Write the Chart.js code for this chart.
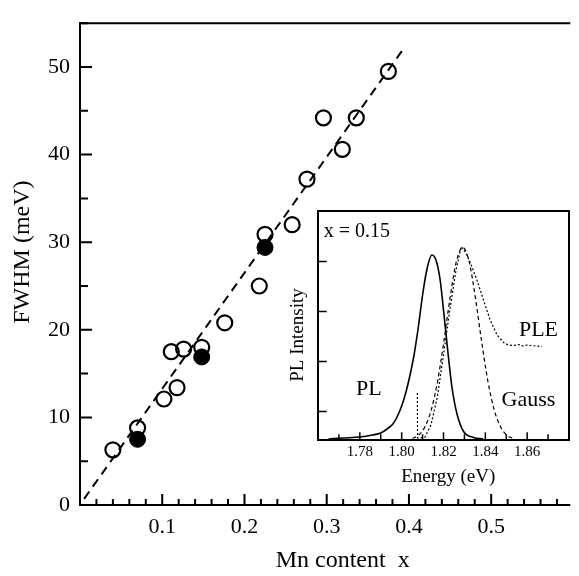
<!DOCTYPE html>
<html>
<head>
<meta charset="utf-8">
<script src="https://cdn.jsdelivr.net/npm/chart.js@4/dist/chart.umd.min.js"></script>
<style>
  html, body { margin: 0; padding: 0; background: #fff; }
  #wrap { position: relative; width: 579px; height: 576px; }
  #mainChart { position: absolute; left: 0; top: 0; }
  #insetChart { position: absolute; left: 280px; top: 200px; }
</style>
</head>
<body>
<div id="wrap">
  <canvas id="mainChart" width="579" height="576"></canvas>
  <canvas id="insetChart" width="299" height="300"></canvas>
</div>
<script>
// main panel: FWHM vs Mn content
const openX = [0.040, 0.070, 0.102, 0.118, 0.111, 0.126, 0.148, 0.176, 0.218, 0.225, 0.258, 0.276, 0.296, 0.319, 0.336, 0.375];
const openY = [6.3, 8.8, 12.1, 13.4, 17.5, 17.8, 18.0, 20.8, 25.0, 30.9, 32.0, 37.2, 44.2, 40.6, 44.2, 49.5];
const filledX = [0.070, 0.148, 0.225];
const filledY = [7.5, 16.9, 29.4];
const fitX = [0.005, 0.395];
const fitY = [0.7, 52.3];

// inset: spectra at x = 0.15
const plE = [1.765, 1.772, 1.780, 1.786, 1.790, 1.793, 1.796, 1.798, 1.800, 1.802, 1.804, 1.806, 1.808, 1.810, 1.812, 1.8144, 1.8164, 1.8184, 1.820, 1.822, 1.824, 1.8264, 1.8296, 1.8343, 1.839];
const plI = [0.02, 0.04, 0.06, 0.10, 0.14, 0.22, 0.33, 0.48, 0.68, 0.95, 1.30, 1.72, 2.27, 2.90, 3.40, 3.70, 3.60, 3.20, 2.60, 1.80, 1.07, 0.53, 0.17, 0.05, 0.02];
const pleE = [1.8075, 1.8076, 1.811, 1.814, 1.817, 1.820, 1.823, 1.826, 1.8285, 1.8305, 1.8328, 1.836, 1.8391, 1.8423, 1.8456, 1.8487, 1.851, 1.8535, 1.856, 1.858, 1.860, 1.862, 1.864, 1.8671];
const pleI = [0.94, 0.04, 0.05, 0.30, 0.85, 1.70, 2.60, 3.40, 3.87, 3.75, 3.55, 3.20, 2.80, 2.40, 2.10, 1.95, 1.90, 1.89, 1.91, 1.88, 1.90, 1.89, 1.88, 1.87];
const gaussE = [1.8052, 1.8082, 1.8112, 1.8142, 1.8172, 1.8202, 1.8232, 1.8262, 1.8292, 1.8322, 1.8352, 1.8382, 1.8412, 1.8442, 1.8472, 1.8502, 1.8532];
const gaussI = [0.03, 0.10, 0.27, 0.61, 1.18, 1.98, 2.86, 3.58, 3.85, 3.58, 2.86, 1.98, 1.18, 0.61, 0.27, 0.10, 0.03];
const insetYTicks = [0.57, 1.57, 2.57, 3.57];
const insetLabels = [
  { text: 'x = 0.15', e: 1.7786, i: 4.16, size: 20 },
  { text: 'PL', e: 1.7843, i: 1.02, size: 22 },
  { text: 'PLE', e: 1.8654, i: 2.2, size: 22 },
  { text: 'Gauss', e: 1.8606, i: 0.8, size: 22 }
];

const SERIF = '"Liberation Serif", "Times New Roman", serif';
Chart.defaults.font.family = SERIF;
Chart.defaults.color = '#000';

const pts = (xs, ys) => xs.map((x, i) => ({ x: x, y: ys[i] }));

function stepTicks(min, max, step, majorEvery, majorLen, minorLen) {
  const out = [];
  for (let i = 0; min + i * step <= max + 1e-9; i++) {
    out.push([min + i * step, i % majorEvery === 0 ? majorLen : minorLen]);
  }
  return out;
}

// frame lines + ticks pointing into the plot
const frameTicks = {
  id: 'frameTicks',
  afterDraw(chart, args, o) {
    const ctx = chart.ctx, a = chart.chartArea;
    const xs = chart.scales.x, ys = chart.scales.y;
    ctx.save();
    ctx.strokeStyle = '#000';
    ctx.lineCap = 'square';
    ctx.lineWidth = o.tickWidth;
    ctx.beginPath();
    o.xTicks.forEach(([v, len]) => {
      const px = xs.getPixelForValue(v);
      ctx.moveTo(px, a.bottom);
      ctx.lineTo(px, a.bottom - len);
    });
    o.yTicks.forEach(([v, len]) => {
      const py = ys.getPixelForValue(v);
      ctx.moveTo(a.left, py);
      ctx.lineTo(a.left + len, py);
    });
    ctx.stroke();
    ctx.lineWidth = o.frameWidth;
    ctx.beginPath();
    if (o.sides.includes('left')) { ctx.moveTo(a.left, a.top); ctx.lineTo(a.left, a.bottom); }
    if (o.sides.includes('bottom')) { ctx.moveTo(a.left, a.bottom); ctx.lineTo(a.right, a.bottom); }
    if (o.sides.includes('top')) { ctx.moveTo(a.left, a.top); ctx.lineTo(a.right, a.top); }
    if (o.sides.includes('right')) { ctx.moveTo(a.right, a.top); ctx.lineTo(a.right, a.bottom); }
    ctx.stroke();
    ctx.restore();
  }
};

const insetText = {
  id: 'insetText',
  afterDraw(chart) {
    const ctx = chart.ctx;
    ctx.save();
    ctx.fillStyle = '#000';
    ctx.textAlign = 'center';
    ctx.textBaseline = 'middle';
    insetLabels.forEach(l => {
      ctx.font = l.size + 'px ' + SERIF;
      ctx.fillText(l.text, chart.scales.x.getPixelForValue(l.e), chart.scales.y.getPixelForValue(l.i));
    });
    ctx.restore();
  }
};

new Chart(document.getElementById('mainChart'), {
  type: 'scatter',
  data: {
    datasets: [{
      data: pts(filledX, filledY),
      pointRadius: 8,
      pointBorderWidth: 1,
      pointBackgroundColor: '#000',
      pointBorderColor: '#000'
    }, {
      data: pts(openX, openY),
      pointRadius: 7.5,
      pointBorderWidth: 2.2,
      pointBackgroundColor: 'rgba(0,0,0,0)',
      pointBorderColor: '#000'
    }, {
      data: pts(fitX, fitY),
      showLine: true,
      pointRadius: 0,
      borderColor: '#000',
      borderWidth: 2,
      borderDash: [9, 6]
    }]
  },
  options: {
    responsive: false,
    animation: false,
    events: [],
    layout: { padding: { top: 7, right: 0, left: 0, bottom: 0 } },
    plugins: {
      legend: { display: false },
      tooltip: { enabled: false },
      frameTicks: {
        tickWidth: 2, frameWidth: 2, sides: ['left', 'bottom', 'top'],
        xTicks: stepTicks(0, 0.595, 0.02, 5, 10, 5),
        yTicks: stepTicks(0, 55, 5, 2, 11, 7)
      }
    },
    scales: {
      x: {
        type: 'linear', min: 0, max: 0.595,
        afterFit: s => { s.height = 71; },
        grid: { display: false, drawTicks: false },
        border: { display: false },
        ticks: {
          stepSize: 0.1, includeBounds: false, padding: 9,
          font: { size: 22 },
          callback: v => v < 0.05 ? '' : v.toFixed(1)
        },
        title: { display: true, text: '      Mn content  x', font: { size: 24 }, padding: { top: 0, bottom: 1 } }
      },
      y: {
        min: 0, max: 55,
        afterFit: s => { s.width = 80; },
        grid: { display: false, drawTicks: false },
        border: { display: false },
        ticks: { stepSize: 10, includeBounds: false, padding: 10, font: { size: 22 } },
        title: { display: true, text: '    FWHM (meV)', font: { size: 24 }, padding: { top: 8, bottom: 0 } }
      }
    }
  },
  plugins: [frameTicks]
});

new Chart(document.getElementById('insetChart'), {
  type: 'scatter',
  data: {
    datasets: [{
      data: pts(plE, plI),
      showLine: true, pointRadius: 0,
      borderColor: '#000', borderWidth: 1.6,
      cubicInterpolationMode: 'monotone'
    }, {
      data: pts(pleE, pleI),
      showLine: true, pointRadius: 0,
      borderColor: '#000', borderWidth: 1.2,
      borderDash: [2, 2]
    }, {
      data: pts(gaussE, gaussI),
      showLine: true, pointRadius: 0,
      borderColor: '#000', borderWidth: 1.2,
      borderDash: [4, 3],
      cubicInterpolationMode: 'monotone'
    }]
  },
  options: {
    responsive: false,
    animation: false,
    events: [],
    layout: { padding: { top: 11, right: 10, left: 0, bottom: 0 } },
    plugins: {
      legend: { display: false },
      tooltip: { enabled: false },
      frameTicks: {
        tickWidth: 1.5, frameWidth: 2, sides: ['left', 'bottom', 'top', 'right'],
        xTicks: stepTicks(1.76, 1.88, 0.01, 2, 7, 5),
        yTicks: insetYTicks.map(v => [v, 8])
      }
    },
    scales: {
      x: {
        type: 'linear', min: 1.76, max: 1.88,
        afterFit: s => { s.height = 60; },
        grid: { display: false, drawTicks: false },
        border: { display: false },
        ticks: {
          stepSize: 0.02, includeBounds: false, padding: 3,
          font: { size: 15 },
          callback: v => (v > 1.77 && v < 1.87) ? v.toFixed(2) : ''
        },
        title: { display: true, text: '  Energy (eV)', font: { size: 19 }, padding: { top: 0, bottom: 11.6 } }
      },
      y: {
        min: 0, max: 4.58,
        afterFit: s => { s.width = 38; },
        grid: { display: false, drawTicks: false },
        border: { display: false },
        ticks: { display: false },
        title: { display: true, text: 'PL Intensity    ', font: { size: 19 }, padding: { top: 6.6, bottom: 0 } }
      }
    }
  },
  plugins: [frameTicks, insetText]
});
</script>
</body>
</html>
